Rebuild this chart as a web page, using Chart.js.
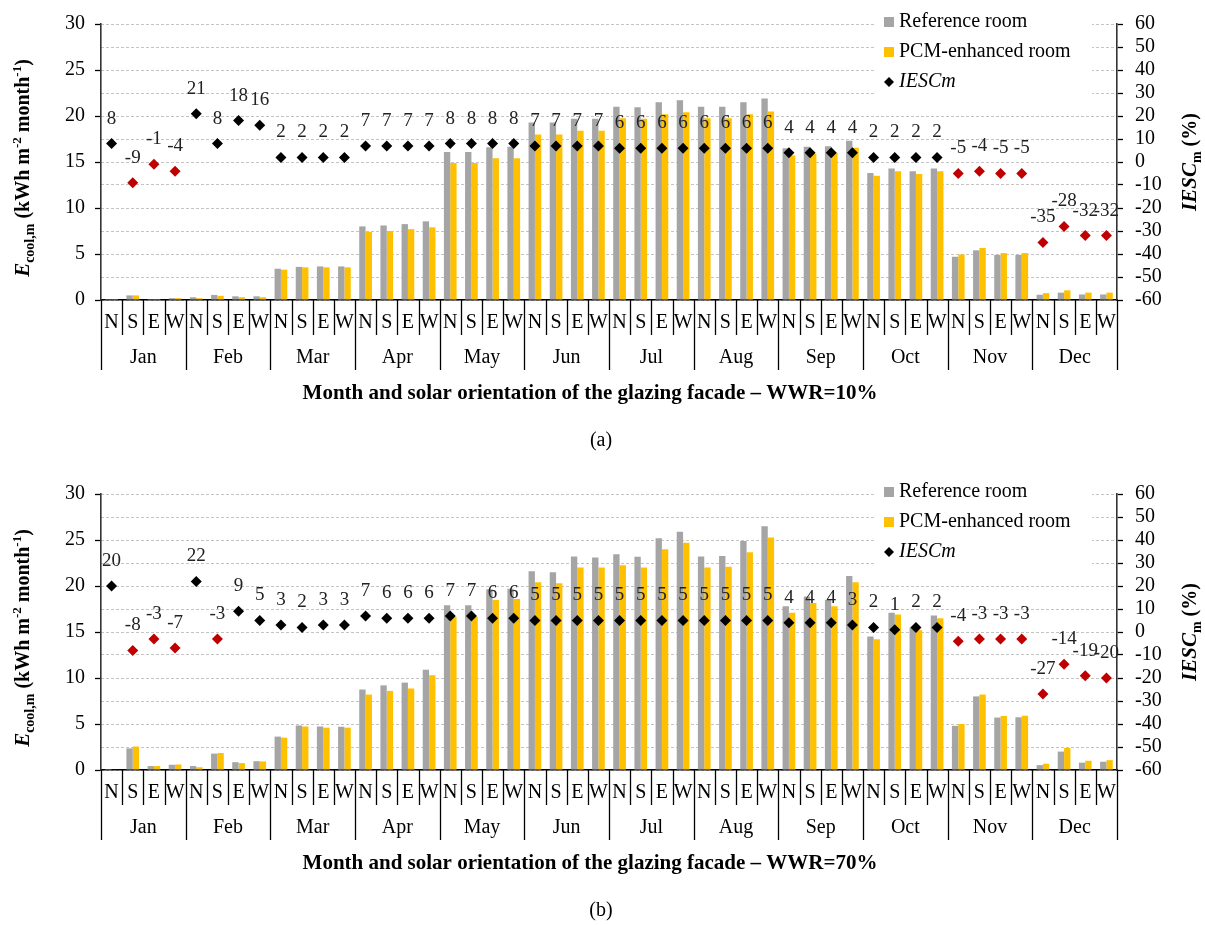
<!DOCTYPE html>
<html>
<head>
<meta charset="utf-8">
<script src="https://cdn.jsdelivr.net/npm/chart.js@4"></script>
<style>
  body { margin: 0; background: #fff; width: 1205px; height: 925px; position: relative; overflow: hidden; }
  canvas { position: absolute; left: 0; }
</style>
</head>
<body>
<canvas id="chartA" width="1205" height="462" style="top:0px"></canvas>
<canvas id="chartB" width="1205" height="455" style="top:470px"></canvas>
<script>
const months = ['Jan', 'Feb', 'Mar', 'Apr', 'May', 'Jun', 'Jul', 'Aug', 'Sep', 'Oct', 'Nov', 'Dec'];
const orients = ['N', 'S', 'E', 'W'];

// WWR=10%
const refA = [0.1, 0.5, 0.1, 0.2, 0.3, 0.55, 0.4, 0.4, 3.4, 3.6, 3.65, 3.65, 8.0, 8.1, 8.25, 8.55,
  16.1, 16.1, 16.6, 16.65, 19.3, 19.3, 19.7, 19.7, 21.0, 20.95, 21.5, 21.7, 21.0, 21.0, 21.5, 21.9,
  16.5, 16.65, 16.7, 17.3, 13.8, 14.3, 14.0, 14.3, 4.7, 5.4, 4.9, 4.9, 0.57, 0.8, 0.6, 0.6];
const pcmA = [0.1, 0.5, 0.1, 0.2, 0.2, 0.45, 0.3, 0.3, 3.3, 3.55, 3.55, 3.55, 7.4, 7.5, 7.7, 7.9,
  14.9, 14.9, 15.4, 15.4, 18.0, 18.0, 18.4, 18.4, 19.75, 19.7, 20.2, 20.4, 19.75, 19.75, 20.2, 20.5,
  15.7, 15.9, 16.0, 16.55, 13.5, 14.0, 13.7, 14.0, 4.95, 5.65, 5.1, 5.1, 0.75, 1.05, 0.8, 0.8];
const iescA = [8, -9, -1, -4, 21, 8, 18, 16, 2, 2, 2, 2, 7, 7, 7, 7, 8, 8, 8, 8, 7, 7, 7, 7,
  6, 6, 6, 6, 6, 6, 6, 6, 4, 4, 4, 4, 2, 2, 2, 2, -5, -4, -5, -5, -35, -28, -32, -32];

// WWR=70%
const refB = [0.1, 2.35, 0.43, 0.57, 0.43, 1.78, 0.85, 0.96, 3.63, 4.84, 4.73, 4.7, 8.75, 9.2, 9.5, 10.9,
  17.9, 17.9, 19.64, 19.7, 21.6, 21.5, 23.2, 23.1, 23.45, 23.17, 25.2, 25.9, 23.2, 23.27, 24.9, 26.5,
  17.8, 18.86, 18.5, 21.1, 14.5, 17.1, 15.5, 16.8, 4.8, 8.0, 5.7, 5.73, 0.53, 2.0, 0.8, 0.9];
const pcmB = [0.05, 2.55, 0.43, 0.6, 0.3, 1.85, 0.75, 0.93, 3.52, 4.73, 4.6, 4.6, 8.2, 8.6, 8.86, 10.3,
  16.65, 16.65, 18.47, 18.6, 20.4, 20.3, 22.0, 22.0, 22.25, 22.0, 24.0, 24.7, 22.0, 22.1, 23.67, 25.27,
  17.1, 18.15, 17.8, 20.4, 14.2, 16.9, 15.2, 16.5, 5.0, 8.2, 5.87, 5.9, 0.68, 2.4, 1.0, 1.07];
const iescB = [20, -8, -3, -7, 22, -3, 9, 5, 3, 2, 3, 3, 7, 6, 6, 6, 7, 7, 6, 6, 5, 5, 5, 5,
  5, 5, 5, 5, 5, 5, 5, 5, 4, 4, 4, 3, 2, 1, 2, 2, -4, -3, -3, -3, -27, -14, -19, -20];

const leftTicks = { min: 0, max: 30, step: 5 };
const rightTicks = { min: -60, max: 60, step: 10 };

const SERIF = "'Liberation Serif', 'Times New Roman', serif";
const GRAY = '#A5A5A5';
const YELLOW = '#FFC000';
const RED = '#C00000';

const categories = [];
months.forEach(m => orients.forEach(o => categories.push(m + ' ' + o)));

function drawRich(ctx, parts, cx, cy) {
    let total = 0;
    parts.forEach(p => { ctx.font = p.f + ' ' + SERIF; p.w = ctx.measureText(p.t).width; total += p.w; });
    ctx.save();
    ctx.translate(cx, cy);
    ctx.rotate(-Math.PI / 2);
    ctx.textBaseline = 'alphabetic';
    ctx.textAlign = 'left';
    ctx.fillStyle = '#000';
    let x = -total / 2;
    parts.forEach(p => {
        ctx.font = p.f + ' ' + SERIF;
        ctx.fillText(p.t, x, 7 + (p.dy || 0));
        x += p.w;
    });
    ctx.restore();
}

const extrasPlugin = {
    id: 'extras',
    afterDraw(chart) {
        const ctx = chart.ctx;
        const xs = chart.scales.x;
        const area = chart.chartArea;
        const w = (area.right - area.left) / categories.length;
        const opts = chart.options.plugins.extras;

        // category separators and labels
        ctx.save();
        ctx.strokeStyle = '#000';
        ctx.lineWidth = 1.3;
        for (let i = 0; i <= categories.length; i++) {
            const x = Math.round(area.left + i * w) + 0.5;
            ctx.beginPath();
            ctx.moveTo(x, area.bottom);
            ctx.lineTo(x, i % 4 === 0 ? 370 : 335);
            ctx.stroke();
        }
        ctx.fillStyle = '#000';
        ctx.textAlign = 'center';
        ctx.textBaseline = 'middle';
        ctx.font = '20px ' + SERIF;
        categories.forEach((c, i) => {
            ctx.fillText(orients[i % 4], xs.getPixelForValue(i), 323);
        });
        months.forEach((m, j) => {
            ctx.fillText(m, area.left + (j * 4 + 2) * w, 358);
        });

        // axis titles
        ctx.font = 'bold 21px ' + SERIF;
        ctx.fillText(opts.title, 590, 394);
        ctx.font = '20px ' + SERIF;
        ctx.fillText(opts.panel, 601, 441);
        ctx.restore();

        drawRich(ctx, [
            { t: 'E', f: 'italic bold 21px' },
            { t: 'cool,m', f: 'bold 14px', dy: 5 },
            { t: ' (kWh m', f: 'bold 20px' },
            { t: '-2', f: 'bold 13px', dy: -8 },
            { t: ' month', f: 'bold 20px' },
            { t: '-1', f: 'bold 13px', dy: -8 },
            { t: ')', f: 'bold 20px' }
        ], 22, 168);
        drawRich(ctx, [
            { t: 'IESC', f: 'italic bold 21px' },
            { t: 'm', f: 'bold 14px', dy: 5 },
            { t: ' (%)', f: 'bold 20px' }
        ], 1189, 162);

        // data labels above diamonds
        const meta = chart.getDatasetMeta(2);
        ctx.save();
        ctx.fillStyle = '#222';
        ctx.font = '19px ' + SERIF;
        ctx.textAlign = 'center';
        ctx.textBaseline = 'middle';
        meta.data.forEach((pt, i) => {
            ctx.fillText(String(chart.data.datasets[2].data[i]), pt.x, pt.y - 25);
        });
        ctx.restore();

        // legend
        ctx.save();
        ctx.fillStyle = '#fff';
        ctx.fillRect(876, 8, 216, 88);
        ctx.fillStyle = GRAY;
        ctx.fillRect(884, 17, 10, 10);
        ctx.fillStyle = YELLOW;
        ctx.fillRect(884, 47, 10, 10);
        ctx.fillStyle = '#000';
        ctx.beginPath();
        ctx.moveTo(884, 82); ctx.lineTo(889, 77); ctx.lineTo(894, 82); ctx.lineTo(889, 87);
        ctx.closePath();
        ctx.fill();
        ctx.textAlign = 'left';
        ctx.textBaseline = 'middle';
        ctx.font = '20px ' + SERIF;
        ctx.fillText('Reference room', 899, 22);
        ctx.fillText('PCM-enhanced room', 899, 52);
        ctx.font = 'italic 20px ' + SERIF;
        ctx.fillText('IESCm', 899, 82);
        ctx.restore();
    }
};

function makeChart(id, ref, pcm, iesc, title, panel) {
    const canvas = document.getElementById(id);
    const H = canvas.height;
    const markColor = c => (c.raw < 0 ? RED : '#000');
    return new Chart(canvas.getContext('2d'), {
        type: 'bar',
        data: {
            labels: categories,
            datasets: [
                {
                    label: 'Reference room',
                    data: ref,
                    backgroundColor: GRAY,
                    yAxisID: 'y',
                    order: 1,
                    categoryPercentage: 0.6,
                    barPercentage: 1.0
                },
                {
                    label: 'PCM-enhanced room',
                    data: pcm,
                    backgroundColor: YELLOW,
                    yAxisID: 'y',
                    order: 2,
                    categoryPercentage: 0.6,
                    barPercentage: 1.0
                },
                {
                    type: 'line',
                    label: 'IESCm',
                    data: iesc,
                    yAxisID: 'y2',
                    showLine: false,
                    order: 0,
                    pointStyle: 'rectRot',
                    pointRadius: 5.5,
                    pointBackgroundColor: markColor,
                    pointBorderColor: markColor,
                    pointBorderWidth: 0
                }
            ]
        },
        options: {
            responsive: false,
            animation: false,
            layout: { padding: { top: 19, left: 0, right: 0, bottom: 0 } },
            plugins: {
                legend: { display: false },
                tooltip: { enabled: false },
                extras: { title: title, panel: panel }
            },
            scales: {
                x: {
                    offset: true,
                    grid: { display: false },
                    ticks: { display: false },
                    border: { color: '#000', width: 1.5 },
                    afterFit: s => { s.height = H - 300; }
                },
                y: {
                    position: 'left',
                    min: leftTicks.min,
                    max: leftTicks.max,
                    ticks: { stepSize: leftTicks.step, autoSkip: false, color: '#000', padding: 10, font: { family: SERIF, size: 20 } },
                    grid: { drawOnChartArea: false, tickLength: 6, tickColor: '#000', tickWidth: 1.3 },
                    border: { color: '#333', width: 1.6 },
                    afterFit: s => { s.width = 101; }
                },
                y2: {
                    position: 'right',
                    min: rightTicks.min,
                    max: rightTicks.max,
                    ticks: { stepSize: rightTicks.step, autoSkip: false, color: '#000', padding: 12, font: { family: SERIF, size: 20 } },
                    grid: { color: '#C4C4C4', lineWidth: 1, tickLength: 6, tickColor: '#000', tickWidth: 1.3 },
                    border: { color: '#333', width: 1.6, dash: [3, 2] },
                    afterFit: s => { s.width = 88; }
                }
            }
        },
        plugins: [extrasPlugin]
    });
}

makeChart('chartA', refA, pcmA, iescA, 'Month and solar orientation of the glazing facade \u2013 WWR=10%', '(a)');
makeChart('chartB', refB, pcmB, iescB, 'Month and solar orientation of the glazing facade \u2013 WWR=70%', '(b)');
</script>
</body>
</html>
